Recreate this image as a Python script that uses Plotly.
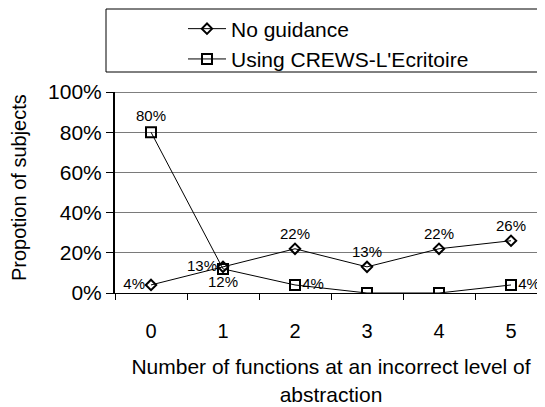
import plotly.graph_objects as go

categories = ["0", "1", "2", "3", "4", "5"]
no_guidance = [0.04, 0.13, 0.22, 0.13, 0.22, 0.26]
crews = [0.80, 0.12, 0.04, 0.00, 0.00, 0.04]
no_guidance_labels = ["4%", "13%", "22%", "13%", "22%", "26%"]
crews_labels = ["80%", "12%", "4%", "", "", "4%"]
no_guidance_pos = ["middle left", "middle left", "top center", "top center", "top center", "top center"]
crews_pos = ["top center", "bottom center", "middle right", "middle right", "middle right", "middle right"]

FONT = "Liberation Sans, Arial, sans-serif"

# plot area in figure pixels (page adds an 8px body margin)
L, R, T, B = 107, 539, 84, 285
W, H = 545, 407
PW, PH = R - L, B - T

fig = go.Figure()
fig.add_trace(go.Scatter(
    x=categories, y=no_guidance, name="No guidance", mode="lines+markers+text",
    text=no_guidance_labels, textposition=no_guidance_pos,
    textfont=dict(size=15, color="black", family=FONT),
    line=dict(color="black", width=1),
    marker=dict(symbol="diamond-open", size=8, color="black", line=dict(width=2)),
    legendgroup="a",
))
fig.add_trace(go.Scatter(
    x=categories, y=crews, name="Using CREWS-L'Ecritoire", mode="lines+markers+text",
    text=crews_labels, textposition=crews_pos,
    textfont=dict(size=15, color="black", family=FONT),
    line=dict(color="black", width=1),
    marker=dict(symbol="square-open", size=10, color="black", line=dict(width=2)),
    legendgroup="b",
))

fig.update_layout(
    width=W, height=H,
    margin=dict(l=L, r=W - R, t=T, b=H - B, autoexpand=False),
    paper_bgcolor="white", plot_bgcolor="white",
    font=dict(family=FONT, size=20, color="black"),
    showlegend=True,
    legend=dict(x=(175 - L) / PW, xanchor="left", y=(B - 36) / PH, yanchor="middle",
                xref="paper", yref="paper", itemwidth=38,
                font=dict(size=21), bgcolor="rgba(0,0,0,0)",
                tracegroupgap=0, traceorder="grouped"),
    xaxis=dict(type="category", range=[-0.5, 5.5], showgrid=False,
               showline=True, linecolor="black", linewidth=1,
               ticks="outside", tickson="boundaries", ticklen=6, tickcolor="black",
               tickfont=dict(size=20), ticklabelstandoff=20,
               title=dict(text="Number of functions at an incorrect level of<br>abstraction",
                          font=dict(size=21), standoff=18)),
    yaxis=dict(range=[0, 1.0], tickformat=".0%", dtick=0.2, tick0=0,
               showgrid=True, gridcolor="#7a7a7a", gridwidth=1,
               showline=True, linecolor="black", linewidth=2,
               ticks="outside", ticklen=7, tickcolor="black",
               tickfont=dict(size=21), zeroline=False),
    annotations=[
        dict(text="Propotion of subjects", textangle=-90, showarrow=False,
             xref="paper", yref="paper", x=(11 - L) / PW, y=(B - 180) / PH,
             xanchor="center", yanchor="middle", font=dict(size=20)),
    ],
    shapes=[
        dict(type="rect", xref="paper", yref="paper",
             x0=(98 - L) / PW, x1=1.05, y0=(B - 64) / PH, y1=(B - 1) / PH,
             line=dict(color="black", width=1)),
        dict(type="line", xref="paper", yref="y", x0=0, x1=1, y0=1, y1=1,
             line=dict(color="black", width=1)),
    ],
)

fig.write_html("out.html")
